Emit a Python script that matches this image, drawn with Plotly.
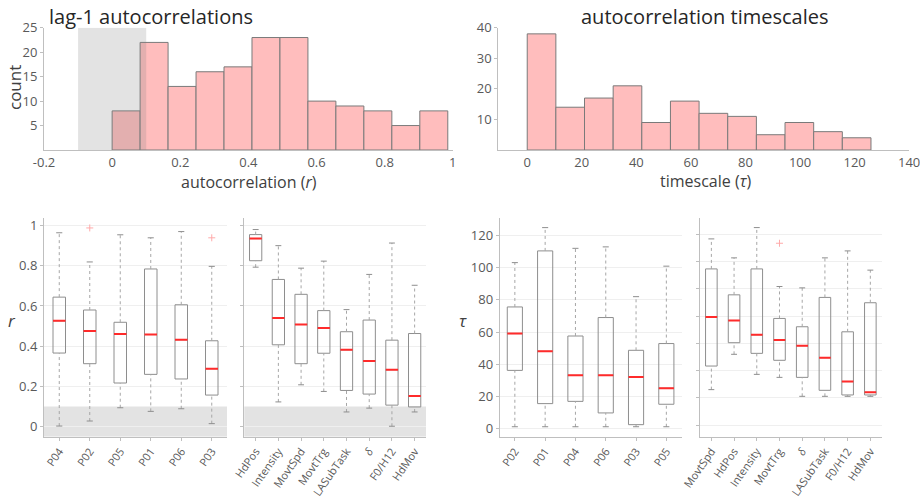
import plotly.graph_objects as go

# ---------------- data ----------------
# top-left histogram: lag-1 autocorrelations
R_BIN_START = 0.0
R_BIN_WIDTH = 0.0821
R_COUNTS = [8, 22, 13, 16, 17, 23, 23, 10, 9, 8, 5, 8]
R_NULL_BAND = [-0.1, 0.1]
R_TICKS = [-0.2, 0, 0.2, 0.4, 0.6, 0.8, 1]
R_TICK_TEXT = ["-0.2", "0", "0.2", "0.4", "0.6", "0.8", "1"]
COUNT_TICKS = [5, 10, 15, 20, 25]

# top-right histogram: autocorrelation timescales
TAU_BIN_START = 0.0
TAU_BIN_WIDTH = 10.5
TAU_COUNTS = [38, 14, 17, 21, 9, 16, 12, 11, 5, 9, 6, 4]
TAU_TICKS = [0, 20, 40, 60, 80, 100, 120, 140]
TAU_COUNT_TICKS = [10, 20, 30, 40]

# panel A: r by participant
A_LABELS = ["P04", "P02", "P05", "P01", "P06", "P03"]
A_LOW = [0.003, 0.028, 0.094, 0.076, 0.089, 0.015]
A_Q1 = [0.366, 0.313, 0.217, 0.260, 0.237, 0.157]
A_MED = [0.526, 0.476, 0.461, 0.458, 0.432, 0.288]
A_Q3 = [0.644, 0.580, 0.519, 0.784, 0.606, 0.427]
A_HIGH = [0.964, 0.819, 0.954, 0.939, 0.970, 0.797]
A_OUT_IDX = [1, 5]
A_OUT_Y = [0.988, 0.939]

# panel B: r by feature
B_LABELS = ["HdPos", "Intensity", "MovtSpd", "MovtTrg", "LASubTask", "<i>δ</i>", "F0/H12", "HdMov"]
B_LOW = [0.793, 0.123, 0.208, 0.175, 0.073, 0.092, 0.002, 0.073]
B_Q1 = [0.825, 0.407, 0.313, 0.365, 0.180, 0.162, 0.107, 0.098]
B_MED = [0.935, 0.540, 0.508, 0.490, 0.382, 0.327, 0.283, 0.152]
B_Q3 = [0.955, 0.732, 0.658, 0.577, 0.472, 0.530, 0.430, 0.463]
B_HIGH = [0.980, 0.900, 0.788, 0.823, 0.582, 0.757, 0.913, 0.703]
B_OUT_IDX = []
B_OUT_Y = []

R_BOX_TICKS = [0, 0.2, 0.4, 0.6, 0.8, 1]
R_BOX_TICK_TEXT = ["0", "0.2", "0.4", "0.6", "0.8", "1"]
R_SHADE_TOP = 0.1

# panel C: tau by participant
C_LABELS = ["P02", "P01", "P04", "P06", "P03", "P05"]
C_LOW = [1.0, 1.0, 1.0, 1.0, 1.0, 1.0]
C_Q1 = [36.1, 15.4, 16.8, 9.6, 2.3, 15.0]
C_MED = [59.0, 48.0, 33.0, 33.0, 32.0, 25.0]
C_Q3 = [75.6, 110.5, 57.5, 69.0, 48.6, 52.8]
C_HIGH = [103.2, 125.0, 112.1, 113.0, 82.0, 101.0]
C_OUT_IDX = []
C_OUT_Y = []
C_TICKS = [0, 20, 40, 60, 80, 100, 120]

# panel D: tau by feature
D_LABELS = ["MovtSpd", "HdPos", "Intensity", "MovtTrg", "<i>δ</i>", "LASubTask", "F0/H12", "HdMov"]
D_LOW = [6.1, 32.0, 17.3, 15.1, 1.2, 1.2, 1.2, 1.2]
D_Q1 = [23.4, 40.5, 32.7, 27.6, 15.1, 5.6, 2.2, 2.2]
D_MED = [59.3, 56.8, 46.3, 42.4, 38.3, 29.5, 12.0, 4.1]
D_Q3 = [94.6, 75.6, 94.6, 58.3, 52.2, 73.7, 48.5, 69.8]
D_HIGH = [116.6, 102.7, 124.9, 81.7, 80.7, 102.7, 107.8, 93.7]
D_OUT_IDX = [3]
D_OUT_Y = [113.4]
D_TICKS = [-20, 0, 20, 40, 60, 80, 100, 120]

# ---------------- style ----------------
W, H = 920, 502
FONT = "Open Sans"
TICK_COLOR = "#595959"
AXIS_COLOR = "#bfbfbf"
GRID_COLOR = "#efefef"
BAR_FILL = "#ffbdbd"
BAR_EDGE = "#7a7a7a"
BOX_EDGE = "#8e8e8e"
WHISKER = "#a6a6a6"
MEDIAN_RED = "#ff2b2b"
OUTLIER_RED = "#ffaaaa"


def px_x(a, b):
    return [a / W, b / W]


def px_y(top, bottom):
    return [1 - bottom / H, 1 - top / H]


fig = go.Figure()

# histograms
fig.add_trace(go.Bar(
    y=R_COUNTS, x0=R_BIN_START + R_BIN_WIDTH / 2, dx=R_BIN_WIDTH, width=R_BIN_WIDTH,
    marker=dict(color=BAR_FILL, line=dict(color=BAR_EDGE, width=1)),
    xaxis="x", yaxis="y", hoverinfo="skip", showlegend=False))
fig.add_trace(go.Bar(
    y=TAU_COUNTS, x0=TAU_BIN_START + TAU_BIN_WIDTH / 2, dx=TAU_BIN_WIDTH, width=TAU_BIN_WIDTH,
    marker=dict(color=BAR_FILL, line=dict(color=BAR_EDGE, width=1)),
    xaxis="x2", yaxis="y2", hoverinfo="skip", showlegend=False))


def add_box_panel(n, labels, low, q1, med, q3, high, out_idx, out_y, box_w, cap_w):
    xa, ya = "x%d" % n, "y%d" % n
    xs = list(range(len(labels)))
    fig.add_trace(go.Box(
        x=xs, q1=q1, median=med, q3=q3, lowerfence=q1, upperfence=q3,
        width=box_w, whiskerwidth=0, fillcolor="rgba(0,0,0,0)",
        line=dict(color=BOX_EDGE, width=1), boxpoints=False,
        xaxis=xa, yaxis=ya, hoverinfo="skip", showlegend=False))
    wx, wy, cx, cy, mx, my = [], [], [], [], [], []
    for i in xs:
        wx += [i, i, None, i, i, None]
        wy += [low[i], q1[i], None, q3[i], high[i], None]
        cx += [i - cap_w, i + cap_w, None, i - cap_w, i + cap_w, None]
        cy += [low[i], low[i], None, high[i], high[i], None]
        mx += [i - box_w / 2, i + box_w / 2, None]
        my += [med[i], med[i], None]
    fig.add_trace(go.Scatter(x=wx, y=wy, mode="lines", line=dict(color=WHISKER, width=1, dash="dot"),
                             xaxis=xa, yaxis=ya, hoverinfo="skip", showlegend=False))
    fig.add_trace(go.Scatter(x=cx, y=cy, mode="lines", line=dict(color=BOX_EDGE, width=1),
                             xaxis=xa, yaxis=ya, hoverinfo="skip", showlegend=False))
    fig.add_trace(go.Scatter(x=mx, y=my, mode="lines", line=dict(color=MEDIAN_RED, width=2),
                             xaxis=xa, yaxis=ya, hoverinfo="skip", showlegend=False))
    if out_idx:
        fig.add_trace(go.Scatter(x=out_idx, y=out_y, mode="markers",
                                 marker=dict(symbol="cross-thin", size=5, line=dict(color=OUTLIER_RED, width=1)),
                                 xaxis=xa, yaxis=ya, hoverinfo="skip", showlegend=False))


add_box_panel(3, A_LABELS, A_LOW, A_Q1, A_MED, A_Q3, A_HIGH, A_OUT_IDX, A_OUT_Y, 0.41, 0.1)
add_box_panel(4, B_LABELS, B_LOW, B_Q1, B_MED, B_Q3, B_HIGH, B_OUT_IDX, B_OUT_Y, 0.54, 0.13)
add_box_panel(5, C_LABELS, C_LOW, C_Q1, C_MED, C_Q3, C_HIGH, C_OUT_IDX, C_OUT_Y, 0.5, 0.1)
add_box_panel(6, D_LABELS, D_LOW, D_Q1, D_MED, D_Q3, D_HIGH, D_OUT_IDX, D_OUT_Y, 0.51, 0.13)

tickfont = dict(family=FONT, size=13, color=TICK_COLOR)
base_axis = dict(showline=True, linecolor=AXIS_COLOR, linewidth=1, zeroline=False,
                 tickfont=tickfont, fixedrange=True, automargin=False,
                 ticklabeloverflow="allow")

top_y = px_y(27.7, 150)
bot_y = px_y(218.3, 436.7)

layout = dict(
    width=W, height=H, margin=dict(l=0, r=0, t=0, b=0, pad=0, autoexpand=False),
    paper_bgcolor="white", plot_bgcolor="white", showlegend=False,
    font=dict(family=FONT, color=TICK_COLOR),
    xaxis=dict(base_axis, domain=px_x(44, 453), range=[-0.2, 1.0005], tickvals=R_TICKS,
               ticktext=R_TICK_TEXT, ticks="", showgrid=False, anchor="y"),
    yaxis=dict(base_axis, domain=top_y, range=[0, 25.01], tickvals=COUNT_TICKS, ticks="outside",
               ticklen=3, tickcolor=AXIS_COLOR, showgrid=False, anchor="x"),
    xaxis2=dict(base_axis, domain=px_x(498.3, 909.3), range=[-10.6, 140.05], tickvals=TAU_TICKS,
                ticks="", showgrid=False, anchor="y2"),
    yaxis2=dict(base_axis, domain=top_y, range=[0, 40.02], tickvals=TAU_COUNT_TICKS, ticks="outside",
                ticklen=3, tickcolor=AXIS_COLOR, showgrid=False, anchor="x2"),
)

panels = [
    (3, px_x(44, 227), A_LABELS, [-0.05, 1.036], R_BOX_TICKS, R_BOX_TICK_TEXT, True),
    (4, px_x(244.3, 426), B_LABELS, [-0.05, 1.036], R_BOX_TICKS, R_BOX_TICK_TEXT, False),
    (5, px_x(499.7, 681.5), C_LABELS, [-5.2, 130.8], C_TICKS, [str(t) for t in C_TICKS], True),
    (6, px_x(700, 881.7), D_LABELS, [-28.4, 131.7], D_TICKS, [str(t) for t in D_TICKS], False),
]
for n, dom, labels, yr, yt, ytt, show_lab in panels:
    layout["xaxis%d" % n] = dict(base_axis, domain=dom, range=[-0.5, len(labels) - 0.5],
                                 tickvals=list(range(len(labels))), ticktext=labels, tickangle=-55,
                                 tickfont=dict(family=FONT, size=11, color=TICK_COLOR),
                                 ticks="outside", ticklen=3, tickcolor=AXIS_COLOR, showgrid=False,
                                 anchor="y%d" % n)
    layout["yaxis%d" % n] = dict(base_axis, domain=bot_y, range=yr, tickvals=yt, ticktext=ytt,
                                 showticklabels=show_lab, ticks="outside", ticklen=3,
                                 tickcolor=AXIS_COLOR, showgrid=True, gridcolor=GRID_COLOR,
                                 gridwidth=1, anchor="x%d" % n)

fig.update_layout(**layout)

# shaded regions
fig.add_shape(type="rect", xref="x", yref="y", x0=R_NULL_BAND[0], x1=R_NULL_BAND[1], y0=0, y1=25,
              fillcolor="rgba(128,128,128,0.22)", line=dict(width=0), layer="above")
for n in (3, 4):
    fig.add_shape(type="rect", xref="x%d domain" % n, yref="y%d" % n, x0=0, x1=1,
                  y0=-0.05, y1=R_SHADE_TOP, fillcolor="#e3e3e3", line=dict(width=0), layer="below")

# titles
TITLE_COLOR = "#262626"
LABEL_COLOR = "#404040"


def ann(text, x, y, size, color, angle=0, xanchor="center"):
    fig.add_annotation(text=text, x=x / W, y=1 - y / H, xref="paper", yref="paper",
                       showarrow=False, textangle=angle, xanchor=xanchor, yanchor="middle",
                       font=dict(family=FONT, size=size, color=color))


ann("lag-1 autocorrelations", 47, 17, 20, TITLE_COLOR, xanchor="left")
ann("autocorrelation timescales", 704.5, 17, 20, TITLE_COLOR)
ann("count", 14, 88, 17, LABEL_COLOR, angle=-90)
ann("autocorrelation (<i>r</i>)", 249, 181.5, 16, LABEL_COLOR)
ann("timescale (<i>τ</i>)", 705, 181, 16, LABEL_COLOR)
ann("<i>r</i>", 11.5, 320, 17, LABEL_COLOR)
ann("<i>τ</i>", 463, 320, 17, LABEL_COLOR)

fig.write_html("out.html", config={"displayModeBar": False},
               post_script="document.body.style.margin='0';document.body.style.overflow='hidden';")
